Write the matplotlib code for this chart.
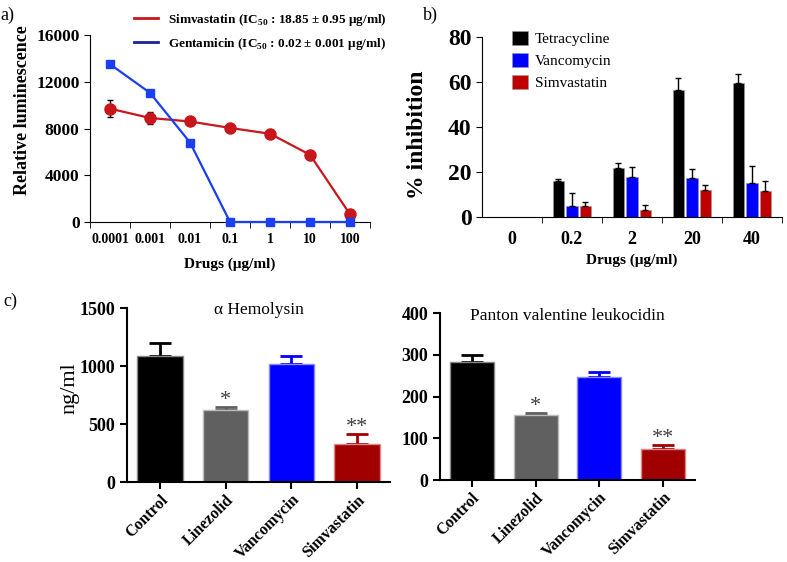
import numpy as np
import matplotlib
matplotlib.use("Agg")
import matplotlib.pyplot as plt

plt.rcParams['font.family'] = ['Liberation Serif', 'DejaVu Serif']
plt.rcParams['mathtext.fontset'] = 'custom'
plt.rcParams['mathtext.rm'] = 'Liberation Serif:bold'
plt.rcParams['mathtext.bf'] = 'Liberation Serif:bold'

# a) luminescence vs dose
doses_a = ["0.0001", "0.001", "0.01", "0.1", "1", "10", "100"]
simva_lum = [9700, 8900, 8600, 8050, 7550, 5750, 650]
simva_err = [700, 500, 0, 0, 0, 0, 0]
genta_lum = [13500, 11050, 6800, 0, 0, 0, 0]

# b) % inhibition
doses_b = ["0", "0.2", "2", "20", "40"]
tetra_inh = [0, 15.8, 22.0, 56.5, 59.5]
tetra_err = [0, 1.0, 1.8, 5.5, 4.0]
vanco_inh = [0, 5.0, 18.0, 17.3, 15.3]
vanco_err = [0, 5.5, 4.3, 4.0, 7.5]
simva_inh = [0, 5.0, 3.2, 11.8, 11.6]
simva_inh_err = [0, 1.5, 2.2, 2.3, 4.3]

# c) toxins
groups = ["Control", "Linezolid", "Vancomycin", "Simvastatin"]
hla = [1085, 620, 1020, 330]
hla_err = [110, 25, 70, 80]
pvl = [282, 155, 248, 75]
pvl_err = [17, 5, 11, 8]
stars = ["", "*", "", "**"]

fig = plt.figure(figsize=(7.87, 5.62), dpi=100)

# ---------- panel a ----------
ax1 = fig.add_axes([0.1144, 0.605, 0.3558, 0.3327])
x = np.arange(len(doses_a))
ax1.plot(x, simva_lum, color="#c8161d", lw=1.6, marker="o", ms=8, clip_on=False, zorder=3)
ax1.errorbar(x[:2], simva_lum[:2], yerr=simva_err[:2], fmt="none", ecolor="black", capsize=2, lw=1, zorder=2)
ax1.plot(x, genta_lum, color="#1a3ff0", lw=1.6, marker="s", ms=6, clip_on=False, zorder=4)
ax1.set_xlim(-0.5, 6.5)
ax1.set_ylim(0, 16000)
ax1.set_yticks([0, 4000, 8000, 12000, 16000])
ax1.set_xticks(x)
ax1.set_xticklabels(doses_a, fontsize=10, fontweight="bold")
ax1.set_xticks(np.arange(-0.5, 7, 1), minor=True)
ax1.tick_params(axis="x", which="major", length=0, pad=8)
ax1.tick_params(axis="x", which="minor", length=4)
ax1.tick_params(axis="y", length=4)
for lab in ax1.get_yticklabels():
    lab.set_fontsize(12.5)
    lab.set_fontweight("bold")
ax1.set_xlabel("Drugs (\u03bcg/ml)", fontsize=11, fontweight="bold", labelpad=8)
ax1.set_ylabel("Relative luminescence", fontsize=13, fontweight="bold")
ax1.yaxis.set_label_coords(-0.21, 0.6)
for s in ["top", "right"]:
    ax1.spines[s].set_visible(False)
h1 = plt.Line2D([], [], color="#c8161d", lw=2)
h2 = plt.Line2D([], [], color="#20209a", lw=2)
fig.legend([h1, h2],
           ["Simvastatin (IC$_{\\mathbf{50}}$ : 18.85 \u00b1 0.95 \u03bcg/ml)",
            "Gentamicin (IC$_{\\mathbf{50}}$ : 0.02 \u00b1 0.001 \u03bcg/ml)"],
           loc="upper left", bbox_to_anchor=(0.155, 1.0), frameon=False,
           prop={"weight": "bold", "size": 9.5}, handlelength=1.8, labelspacing=0.6)
fig.text(0.0, 0.965, "a)", fontsize=13)

# ---------- panel b ----------
ax2 = fig.add_axes([0.6125, 0.6139, 0.381, 0.320])
xb = np.arange(len(doses_b))
w = 0.19
ax2.bar(xb - 0.225, tetra_inh, w, color="black", edgecolor="#999999", lw=0.4, label="Tetracycline")
ax2.bar(xb, vanco_inh, w, color="#0000ff", edgecolor="#999999", lw=0.4, label="Vancomycin")
ax2.bar(xb + 0.225, simva_inh, w, color="#c00000", edgecolor="#999999", lw=0.4, label="Simvastatin")
for off, vals, errs in [(-0.225, tetra_inh, tetra_err), (0, vanco_inh, vanco_err), (0.225, simva_inh, simva_inh_err)]:
    ax2.errorbar(xb[1:] + off, vals[1:], yerr=[[0] * 4, errs[1:]], fmt="none", ecolor="black", capsize=2, lw=1)
ax2.set_xlim(-0.5, 4.5)
ax2.set_ylim(0, 80)
ax2.set_yticks([0, 20, 40, 60, 80])
ax2.set_xticks(xb)
ax2.set_xticklabels(doses_b, fontsize=13, fontweight="bold")
ax2.set_xticks(np.arange(0.5, 5, 1), minor=True)
ax2.tick_params(axis="x", which="major", length=0, pad=10)
ax2.tick_params(axis="x", which="minor", length=4)
ax2.tick_params(axis="y", length=4)
for lab in ax2.get_yticklabels():
    lab.set_fontsize(17)
    lab.set_fontweight("bold")
ax2.set_xlabel("Drugs (\u03bcg/ml)", fontsize=11, fontweight="bold", labelpad=4)
ax2.set_ylabel("% inhibition", fontsize=17, fontweight="bold", labelpad=4)
ax2.yaxis.set_label_coords(-0.18, 0.46)
for s in ["top", "right"]:
    ax2.spines[s].set_visible(False)
ax2.legend(loc="upper left", bbox_to_anchor=(0.055, 1.11), frameon=False, fontsize=11,
           handlelength=1.0, handleheight=1.0, labelspacing=0.45, handletextpad=0.5)
fig.text(0.537, 0.965, "b)", fontsize=13)

# ---------- panel c ----------
colors_c = ["black", "#606060", "#0000ff", "#a00000"]
edges_c = ["#888888", "#bbbbbb", "#8888ff", "#dd8888"]


def toxin_panel(ax, vals, errs, ylim, yt, title, ty):
    xc = np.arange(len(groups))
    ax.bar(xc, vals, 0.69, color=colors_c, edgecolor=edges_c, lw=1.0, zorder=2)
    for i in range(len(groups)):
        ax.errorbar(xc[i], vals[i], yerr=[[0], [errs[i]]], fmt="none", ecolor=colors_c[i],
                    capsize=8, capthick=2, elinewidth=2, zorder=1)
        if stars[i]:
            ax.annotate(stars[i], (xc[i], vals[i] + errs[i]), xytext=(0, -2), textcoords="offset points",
                        ha="center", va="bottom", fontsize=16, color="#404040")
    ax.set_xlim(-0.5, 3.5)
    ax.set_ylim(*ylim)
    ax.set_yticks(yt)
    ax.set_xticks(xc)
    ax.set_xticklabels(groups, rotation=45, ha="right", rotation_mode="anchor", fontsize=11.5, fontweight="bold")
    for lab in ax.get_yticklabels():
        lab.set_fontsize(13)
        lab.set_fontweight("bold")
    ax.tick_params(width=1.5, length=5)
    ax.tick_params(axis="x", pad=2)
    for s in ["top", "right"]:
        ax.spines[s].set_visible(False)
    for s in ["left", "bottom"]:
        ax.spines[s].set_linewidth(1.5)
    ax.text(0.5, ty, title, transform=ax.transAxes, ha="center", va="center", fontsize=12.5)


ax3 = fig.add_axes([0.1614, 0.1423, 0.334, 0.3096])
toxin_panel(ax3, hla, hla_err, (0, 1500), [0, 500, 1000, 1500], "\u03b1 Hemolysin", 0.99)
ax3.set_ylabel("ng/ml", fontsize=16)
ax3.yaxis.set_label_coords(-0.18, 0.54)

ax4 = fig.add_axes([0.559, 0.1459, 0.324, 0.297])
toxin_panel(ax4, pvl, pvl_err, (0, 400), [0, 100, 200, 300, 400], "Panton valentine leukocidin", 0.98)
fig.text(0.004, 0.455, "c)", fontsize=13)

fig.savefig("out.png", dpi=100)
